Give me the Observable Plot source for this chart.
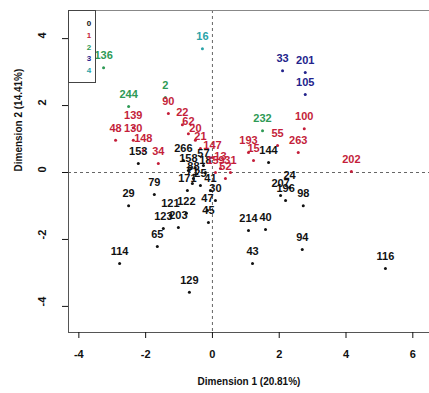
<!DOCTYPE html>
<html><head><meta charset="utf-8">
<script src="https://cdn.jsdelivr.net/npm/d3@7"></script>
<script src="https://cdn.jsdelivr.net/npm/@observablehq/plot@0.6"></script>
<style>
body{margin:0;background:#fff;font-family:"Liberation Sans",Arial,sans-serif;}
#wrap{position:relative;width:429px;height:393px;overflow:hidden;}
#legend{position:absolute;left:68px;top:10px;width:28px;height:73px;border:1px solid #444;box-sizing:border-box;background:#fff;}
#legend div{position:absolute;left:20px;font-size:8px;font-weight:bold;transform:translate(-50%,-50%);line-height:1;}
</style></head><body><div id="wrap"></div>
<script>
// point labels, coordinates and cluster membership
const labels = ["29","79","121","122","123","203","65","114","129","45","47","214","40","43","94","116","207","24","196","98","144","266","153","158","88","18","25","41","171","30","57","71",
  "48","139","130","148","34","90","22","62","20","21","147","159","52","31","13","193","15","55","263","100","202",
  "136","244","2","232",
  "33","201","105",
  "16"];
const dim1 = [-2.51,-1.74,-1.26,-0.78,-1.47,-1.02,-1.65,-2.78,-0.69,-0.12,-0.15,1.08,1.59,1.20,2.69,5.18,2.04,2.31,2.19,2.72,1.68,-0.87,-2.22,-0.72,-0.57,-0.21,-0.36,-0.06,-0.75,0.09,-0.27,-0.60,
  -2.90,-2.37,-2.37,-2.07,-1.62,-1.32,-0.90,-0.72,-0.51,-0.36,0.00,0.09,0.39,0.54,0.24,1.08,1.23,1.95,2.57,2.75,4.16,
  -3.26,-2.51,-1.41,1.50,
  2.10,2.78,2.78,
  -0.30];
const dim2 = [-0.99,-0.66,-1.28,-1.22,-1.67,-1.64,-2.21,-2.72,-3.58,-1.49,-1.13,-1.73,-1.70,-2.72,-2.30,-2.87,-0.69,-0.45,-0.84,-0.99,0.30,0.36,0.27,0.06,-0.18,0.00,-0.39,-0.54,-0.54,-0.84,0.21,-0.33,
  0.96,1.34,0.96,0.66,0.27,1.76,1.43,1.16,0.96,0.72,0.45,0.00,-0.18,0.00,0.12,0.60,0.36,0.81,0.60,1.31,0.03,
  3.13,1.97,2.24,1.25,
  3.04,2.99,2.33,
  3.70];
const cluster = [0,0,0,0,0,0,0,0,0,0,0,0,0,0,0,0,0,0,0,0,0,0,0,0,0,0,0,0,0,0,0,0,
  1,1,1,1,1,1,1,1,1,1,1,1,1,1,1,1,1,1,1,1,1,
  2,2,2,2,
  3,3,3,
  4];
const legendLabels = ["0","1","2","3","4"];
const palette = ["#111111","#c41e3a","#2e9a55","#23238c","#2aa3a8"];
const xTicks = [-4,-2,0,2,4,6];
const yTicks = [-4,-2,0,2,4];
const xTitle = "Dimension 1 (20.81%)";
const yTitle = "Dimension 2 (14.41%)";

const data = labels.map((l,i)=>({label:l, x:dim1[i], y:dim2[i], c:cluster[i]}));
const col = d => palette[d.c];

const chart = Plot.plot({
  width: 429, height: 393,
  marginLeft: 68, marginRight: 0, marginTop: 10, marginBottom: 61,
  style: {fontFamily: "Liberation Sans, Arial, sans-serif", background: "#fff", color: "#111"},
  x: {domain: [-4.31, 6.5]},
  y: {domain: [-4.78, 4.84]},
  marks: [
    Plot.ruleX([0], {stroke: "#666", strokeDasharray: "3,3", strokeWidth: 1}),
    Plot.ruleY([0], {stroke: "#666", strokeDasharray: "3,3", strokeWidth: 1}),
    Plot.frame({anchor: "left", stroke: "#555"}),
    Plot.frame({anchor: "top", stroke: "#888"}),
    Plot.frame({anchor: "bottom", stroke: "#555"}),
    Plot.axisX({ticks: xTicks, tickSize: 6, tickPadding: 12, fontSize: 11, fontWeight: "bold", tickFormat: d => String(d), label: null}),
    Plot.axisY({ticks: yTicks, tickSize: 6, tickFormat: () => "", label: null}),
    Plot.text(yTicks, {y: d => d, text: d => String(d), frameAnchor: "left", dx: -26, rotate: -90, fontSize: 11, fontWeight: "bold"}),
    Plot.text([xTitle], {text: d => d, frameAnchor: "bottom", dy: 52, fontSize: 10, fontWeight: "bold"}),
    Plot.text([yTitle], {text: d => d, frameAnchor: "left", dx: -50, rotate: -90, fontSize: 10, fontWeight: "bold"}),
    Plot.dot(data, {x: "x", y: "y", r: 1.5, fill: col, stroke: null}),
    Plot.text(data, {x: "x", y: "y", text: "label", dy: -12, fill: col, fontSize: 11, fontWeight: "bold"})
  ]
});
const wrap = document.getElementById("wrap");
wrap.appendChild(chart);
const lg = document.createElement("div");
lg.id = "legend";
legendLabels.forEach((t,i)=>{
  const e = document.createElement("div");
  e.textContent = t;
  e.style.top = (13 + i*11.8) + "px";
  e.style.color = palette[i];
  lg.appendChild(e);
});
wrap.appendChild(lg);
</script>
</body></html>
